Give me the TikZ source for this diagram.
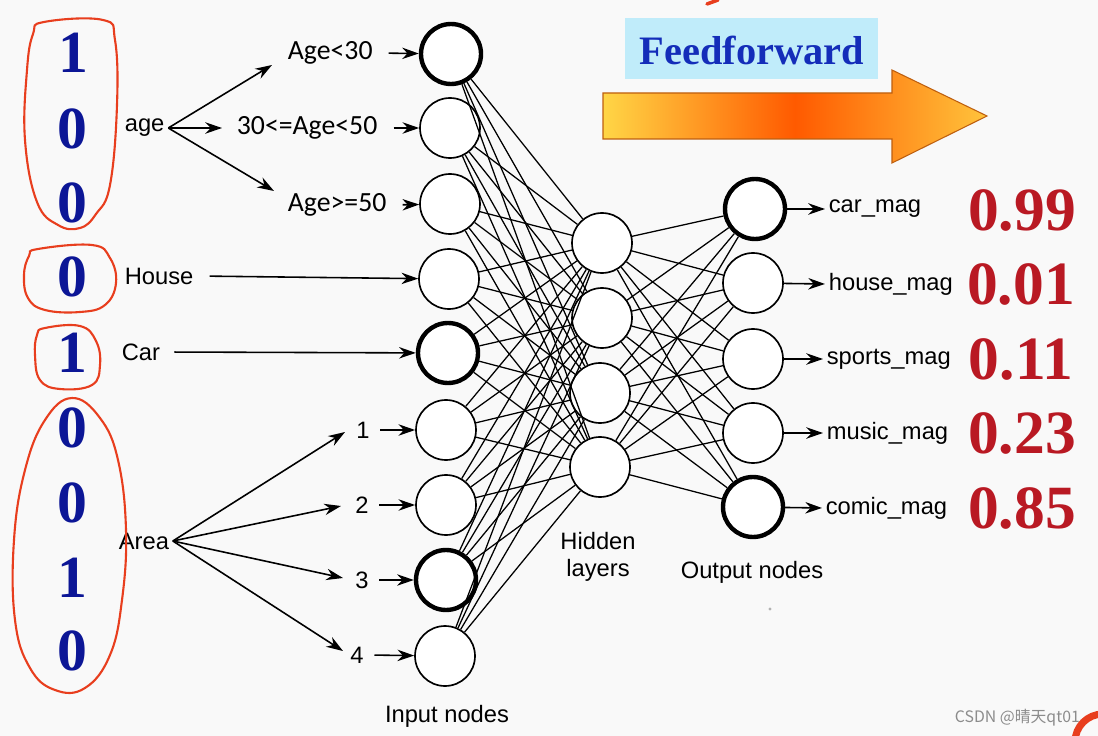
\documentclass[tikz,border=0pt]{standalone}
\usepackage{fontspec}
\setmainfont{Liberation Sans}
\newfontfamily\serifb{Liberation Serif}
\newfontfamily\carl{Carlito}
\newfontfamily\cjk{Noto Sans CJK SC}
\usetikzlibrary{arrows.meta}
\definecolor{bg}{RGB}{249,249,249}
\definecolor{blueD}{RGB}{12,22,150}
\definecolor{redD}{RGB}{185,25,35}
\definecolor{pen}{RGB}{232,62,30}
\definecolor{skyb}{RGB}{192,236,250}
\definecolor{ffblue}{RGB}{20,45,185}
\definecolor{arrY}{RGB}{255,214,70}
\definecolor{arrO}{RGB}{255,90,0}
\definecolor{arrE}{RGB}{190,95,15}
\begin{document}
\begin{tikzpicture}[x=0.02cm,y=-0.02cm,
  neuron/.style={circle,draw,line width=0.95pt,minimum size=1.2cm,inner sep=0pt,fill=white},
  thickn/.style={neuron,line width=2.5pt},
  lbl/.style={font=\fontsize{13.5}{16}\selectfont,inner sep=2pt},
  agel/.style={font=\carl\fontsize{15.8}{18}\selectfont,inner sep=2pt},
  bdig/.style={font=\serifb\bfseries\fontsize{34}{40}\selectfont,text=blueD,inner sep=0pt},
  rdig/.style={font=\serifb\bfseries\fontsize{35}{40}\selectfont,text=redD,inner sep=0pt},
  arr/.style={-{Stealth[length=9.5pt,width=6.5pt]},line width=0.9pt},
  conn/.style={line width=0.72pt},
  penline/.style={pen,line width=1.2pt}]
\fill[bg] (0,0) rectangle (1098,736);
\useasboundingbox (0,0) rectangle (1098,736);

% input nodes
\node[thickn] (i1) at (451,54) {};
\node[neuron] (i2) at (450,128) {};
\node[neuron] (i3) at (450,204) {};
\node[neuron] (i4) at (449,279) {};
\node[thickn] (i5) at (448,353) {};
\node[neuron] (i6) at (446,430) {};
\node[neuron] (i7) at (446,505) {};
\node[thickn] (i8) at (446,580) {};
\node[neuron] (i9) at (445,656) {};
% hidden
\node[neuron] (h1) at (602,243) {};
\node[neuron] (h2) at (602,318) {};
\node[neuron] (h3) at (600,393) {};
\node[neuron] (h4) at (600,467) {};
% output
\node[thickn] (o1) at (755,209) {};
\node[neuron] (o2) at (753,283) {};
\node[neuron] (o3) at (753,359) {};
\node[neuron] (o4) at (753,433) {};
\node[thickn] (o5) at (753,507) {};

\foreach \a in {1,...,9}{\foreach \b in {1,...,4}{\draw[conn] (i\a) -- (h\b);}}
\foreach \a in {1,...,4}{\foreach \b in {1,...,5}{\draw[conn] (h\a) -- (o\b);}}

% left labels
\node[lbl,anchor=west] (age) at (121,128) {age};
\node[lbl,anchor=west] (house) at (121,276) {House};
\node[lbl,anchor=west] (car) at (118,352) {Car};
\node[lbl,anchor=west] (area) at (115,541) {Area};

\node[agel,anchor=west] (alt) at (284,53) {Age<30};
\node[agel,anchor=west] (amid) at (233,128) {30<=Age<50};
\node[agel,anchor=west] (age50) at (284,205) {Age>=50};

\coordinate (t1) at (272,65);
\coordinate (t2) at (222,128);
\coordinate (t3) at (274,191);
\draw[arr] (age.east) -- (t1);
\draw[arr] (age.east) -- (t2);
\draw[arr] (age.east) -- (t3);

\draw[arr,shorten <=7pt] (alt.east) -- (i1);
\draw[arr,shorten <=7pt] (amid.east) -- (i2);
\draw[arr,shorten <=7pt] (age50.east) -- (i3);
\draw[arr,shorten <=7pt] (house.east) -- (i4);
\draw[arr,shorten <=6pt] (car.east) -- (i5);

\node[lbl] (n1) at (363,430) {1};
\node[lbl] (n2) at (362,505) {2};
\node[lbl] (n3) at (362,580) {3};
\node[lbl] (n4) at (357,655) {4};
\coordinate (u1) at (345,432);
\coordinate (u2) at (341,506);
\coordinate (u3) at (343,578);
\coordinate (u4) at (343,651);
\draw[arr] (area.east) -- (u1);
\draw[arr] (area.east) -- (u2);
\draw[arr] (area.east) -- (u3);
\draw[arr] (area.east) -- (u4);
\draw[arr,shorten <=4pt] (n1.east) -- (i6);
\draw[arr,shorten <=4pt] (n2.east) -- (i7);
\draw[arr,shorten <=4pt] (n3.east) -- (i8);
\draw[arr,shorten <=4pt] (n4.east) -- (i9);

% layer captions
\node[lbl] (hid1) at (598,541) {Hidden};
\node[lbl] (hid2) at (598,570) {layers};
\node[lbl] (outc) at (752,572) {Output nodes};
\node[lbl] (inc) at (447,716) {Input nodes};

% output labels
\node[lbl,anchor=west] (l1) at (825,209) {car\_mag};
\node[lbl,anchor=west] (l2) at (825,284) {house\_mag};
\node[lbl,anchor=west] (l3) at (823,359) {sports\_mag};
\node[lbl,anchor=west] (l4) at (823,433) {music\_mag};
\node[lbl,anchor=west] (l5) at (822,508) {comic\_mag};
\draw[arr] (o1) -- (l1.west);
\draw[arr] (o2) -- (l2.west);
\draw[arr] (o3) -- (l3.west);
\draw[arr] (o4) -- (l4.west);
\draw[arr] (o5) -- (l5.west);

% red values
\node[rdig] (r1) at (1022,210) {0.99};
\node[rdig] (r2) at (1021,284) {0.01};
\node[rdig] (r3) at (1021,359) {0.11};
\node[rdig] (r4) at (1022,433) {0.23};
\node[rdig] (r5) at (1022,508) {0.85};

% blue digits
\node[bdig] (b1) at (73,53) {1};
\node[bdig] (b2) at (72,129) {0};
\node[bdig] (b3) at (72,203) {0};
\node[bdig] (b4) at (72,277) {0};
\node[bdig] (b5) at (72,353) {1};
\node[bdig] (b6) at (72,428) {0};
\node[bdig] (b7) at (72,503) {0};
\node[bdig] (b8) at (72,578) {1};
\node[bdig] (b9) at (72,651) {0};

% hand drawn outlines
\draw[penline] plot[smooth cycle,tension=0.7] coordinates {(44,22) (103,20) (115,40) (117,105) (110,185) (96,214) (80,228) (58,225) (37,202) (25,140) (27,70) (33,34)};
\draw[penline] plot[smooth cycle,tension=0.7] coordinates {(38,249) (92,245) (110,258) (116,283) (105,305) (80,312) (45,310) (28,298) (24,275) (29,256)};
\draw[penline] plot[smooth cycle,tension=0.7] coordinates {(45,328) (80,326) (96,341) (100,365) (92,385) (60,389) (40,380) (35,355) (37,335)};
\draw[penline] plot[smooth cycle,tension=0.7] coordinates {(72,398) (100,418) (118,460) (126,530) (122,600) (110,655) (85,688) (55,690) (30,668) (15,620) (14,540) (25,470) (45,420)};

% feedforward
\fill[skyb] (625,18) rectangle (878,79);
\node[font=\serifb\bfseries\fontsize{23}{28}\selectfont,text=ffblue] (ff) at (752,50) {Feedforward};
\draw[arrE,line width=0.6pt,left color=arrY,right color=arrY!85!arrO,middle color=arrO]
  (603,93) -- (892,93) -- (892,70) -- (987,116) -- (892,163) -- (892,139) -- (603,139) -- cycle;

% marks
\fill[gray!60] (770,609) circle (1.6);
\draw[pen,line width=2pt,line cap=round] (707,4) -- (718,0);
\draw[pen,line width=4pt] (1103,742) circle (28);
\node[font=\cjk\fontsize{9}{11}\selectfont,text=black!45,anchor=east] (wm) at (1086,718) {CSDN @晴天qt01};
\end{tikzpicture}
\end{document}
